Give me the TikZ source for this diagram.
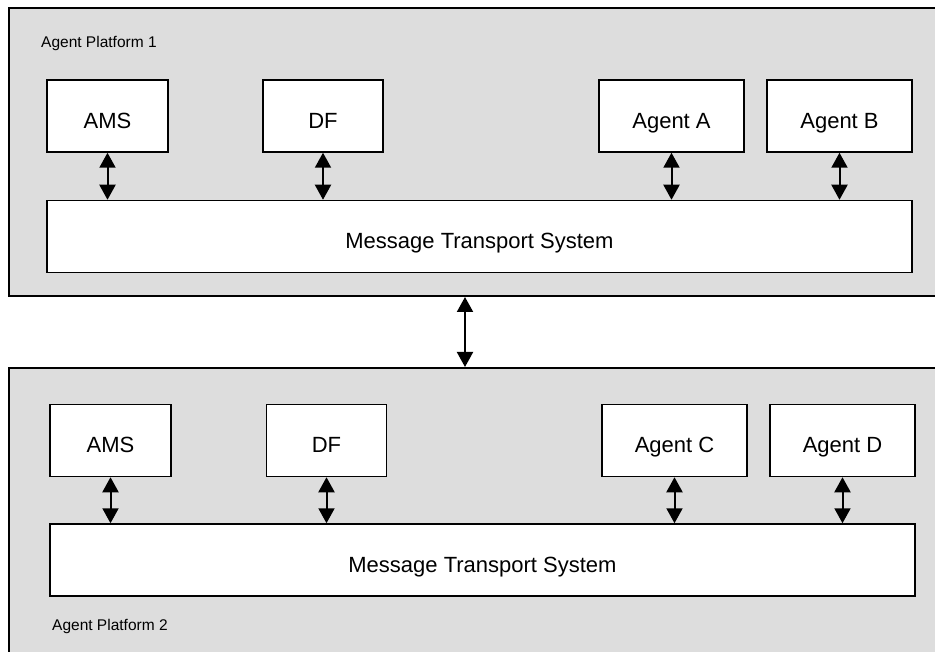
\documentclass[tikz,border=0pt]{standalone}
\usepackage{fontspec}
\setmainfont{Liberation Sans}
\usetikzlibrary{arrows.meta}
\definecolor{platgray}{RGB}{221,221,221}
\tikzset{
  platform/.style={draw=black, line width=2pt, fill=platgray, inner sep=0pt},
  comp/.style={draw=black, line width=1.5pt, fill=white, inner sep=0pt,
    minimum height=72pt, text height=25pt, text depth=0pt,
    font=\fontsize{22}{26}\selectfont},
  mtsbox/.style={comp, minimum width=865pt},
  platlabel/.style={anchor=west, inner sep=0pt, font=\fontsize{15.5}{18}\selectfont},
  link/.style={line width=2pt, {Triangle[width=16pt,length=15pt]}-{Triangle[width=16pt,length=15pt]}}
}
\begin{document}
\begin{tikzpicture}[x=1pt, y=-1pt]
  \useasboundingbox (0,0) rectangle (935,652);
  \clip (0,0) rectangle (935,652);

  % the two agent platforms
  \node[platform, minimum width=936pt, minimum height=288pt] (p1) at (477,152) {};
  \node[platform, minimum width=936pt, minimum height=302pt] (p2) at (477,519) {};

  \node[platlabel] (l1) at (41,43) {Agent Platform 1};
  \node[platlabel] (l2) at (52,626) {Agent Platform 2};

  % platform 1 components
  \node[comp, minimum width=121pt] (ams1) at (107.5,116) {AMS};
  \node[comp, minimum width=120pt] (df1)  at (323,116)   {DF};
  \node[comp, minimum width=145pt] (aa)   at (671.5,116) {Agent A};
  \node[comp, minimum width=145pt] (ab)   at (839.5,116) {Agent B};
  \node[mtsbox] (mts1) at (479.5,236.5) {Message Transport System};

  % platform 2 components
  \node[comp, minimum width=121pt] (ams2) at (110.5,440.5) {AMS};
  \node[comp, minimum width=120pt] (df2)  at (326.5,440.5) {DF};
  \node[comp, minimum width=145pt] (ac)   at (674.5,440.5) {Agent C};
  \node[comp, minimum width=145pt] (ad)   at (842.5,440.5) {Agent D};
  \node[mtsbox] (mts2) at (482.5,560) {Message Transport System};

  % links between components and the transport system
  \foreach \c in {ams1,df1,aa,ab}
    \draw[link] (\c.south) -- (\c.south |- mts1.north);
  \foreach \c in {ams2,df2,ac,ad}
    \draw[link] (\c.south) -- (\c.south |- mts2.north);

  % link between the platforms
  \draw[link] ([xshift=-12pt]p1.south) -- ([xshift=-12pt]p2.north);
\end{tikzpicture}
\end{document}
